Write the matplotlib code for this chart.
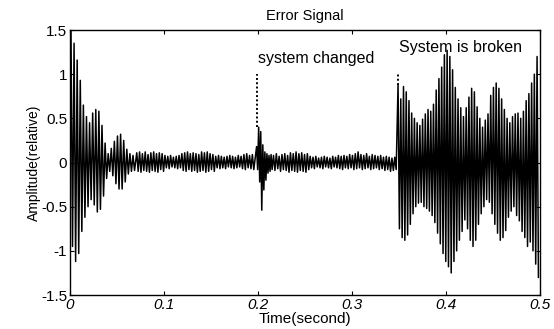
import numpy as np
import matplotlib
matplotlib.use("Agg")
import matplotlib.pyplot as plt

plt.rcParams['font.family'] = ['Liberation Sans', 'DejaVu Sans']

# error signal, stored as per-cycle peaks (upper) and troughs (lower)
# for each stretch of the recording: (start time, cycle period)
startup_t0, startup_period = 0.001, 0.0033
startup_upper = [1.5, 1.35, 1.16, 0.93, 0.65, 0.52, 0.45, 0.56, 0.6, 0.58,
                 0.42, 0.22, 0.1, 0.16, 0.24, 0.3, 0.32, 0.25, 0.15, 0.1, 0.08]
startup_lower = [-0.95, -1.12, -1.03, -0.78, -0.62, -0.5, -0.42, -0.48, -0.56, -0.53,
                 -0.38, -0.18, -0.1, -0.15, -0.24, -0.3, -0.3, -0.22, -0.13, -0.1, -0.09]

quiet1_t0, quiet1_period = 0.071, 0.003
quiet1_upper = [0.11, 0.12, 0.1, 0.12, 0.09, 0.11, 0.12, 0.1, 0.11, 0.1,
                0.08, 0.07, 0.08, 0.06, 0.07, 0.08, 0.1, 0.11, 0.12, 0.1,
                0.11, 0.1, 0.09, 0.12, 0.11, 0.12, 0.1, 0.09, 0.07, 0.08,
                0.07, 0.06, 0.07, 0.08, 0.07, 0.06, 0.08, 0.07, 0.09, 0.1, 0.08, 0.09]
quiet1_lower = [-0.1, -0.11, -0.09, -0.1, -0.11, -0.09, -0.1, -0.11, -0.08, -0.1,
                -0.06, -0.07, -0.05, -0.06, -0.07, -0.06, -0.09, -0.1, -0.08, -0.1,
                -0.09, -0.11, -0.1, -0.09, -0.11, -0.1, -0.08, -0.1, -0.06, -0.07,
                -0.06, -0.07, -0.05, -0.06, -0.07, -0.06, -0.05, -0.07, -0.08, -0.06, -0.07, -0.08]

change_t0, change_period = 0.1985, 0.0022
change_upper = [0.18, 0.4, 0.35, 0.2, 0.12, 0.1, 0.08, 0.09]
change_lower = [-0.08, -0.22, -0.54, -0.31, -0.2, -0.12, -0.1, -0.08]

quiet2_t0, quiet2_period = 0.2165, 0.003
quiet2_upper = [0.08, 0.1, 0.07, 0.09, 0.1, 0.08, 0.11, 0.1, 0.12, 0.1,
                0.11, 0.09, 0.1, 0.07, 0.06, 0.07, 0.05, 0.06, 0.07, 0.06,
                0.05, 0.07, 0.06, 0.08, 0.07, 0.08, 0.07, 0.09, 0.08, 0.1,
                0.12, 0.09, 0.08, 0.1, 0.07, 0.09, 0.08, 0.07, 0.08, 0.06,
                0.07, 0.06, 0.05, 0.06]
quiet2_lower = [-0.09, -0.07, -0.1, -0.08, -0.09, -0.11, -0.09, -0.1, -0.11, -0.09,
                -0.1, -0.11, -0.08, -0.06, -0.07, -0.05, -0.06, -0.07, -0.05, -0.06,
                -0.07, -0.05, -0.06, -0.07, -0.08, -0.06, -0.07, -0.06, -0.08, -0.07,
                -0.06, -0.08, -0.07, -0.06, -0.08, -0.07, -0.06, -0.08, -0.07, -0.09,
                -0.08, -0.1, -0.09, -0.08]

broken_t0, broken_period = 0.349, 0.0029
broken_upper = [0.88, 0.72, 0.86, 0.8, 0.7, 0.56, 0.5, 0.45, 0.42, 0.49,
                0.55, 0.6, 0.58, 0.66, 0.82, 0.95, 1.08, 1.22, 1.27, 1.2,
                1.05, 0.85, 0.72, 0.62, 0.52, 0.62, 0.74, 0.84, 0.8, 0.63,
                0.5, 0.4, 0.48, 0.55, 0.76, 0.85, 0.9, 0.84, 0.72, 0.6,
                0.5, 0.45, 0.52, 0.55, 0.56, 0.5, 0.58, 0.7, 0.78, 0.9, 1.0, 1.2]
broken_lower = [-0.75, -0.85, -0.88, -0.82, -0.7, -0.58, -0.5, -0.46, -0.45, -0.5,
                -0.52, -0.55, -0.6, -0.68, -0.8, -0.92, -1.03, -1.12, -1.18, -1.25,
                -1.12, -1.0, -0.88, -0.78, -0.65, -0.75, -0.88, -0.95, -0.88, -0.7,
                -0.58, -0.5, -0.42, -0.45, -0.58, -0.7, -0.8, -0.88, -0.85, -0.77,
                -0.62, -0.55, -0.5, -0.6, -0.66, -0.78, -0.85, -0.95, -0.9, -1.0, -1.15, -1.3]

# event markers
event_times = [0.199, 0.349]
event_tops = [1.0, 1.0]
event_bottoms = [0.4, 0.88]
event_labels = ["system changed", "System is broken"]
label_y = [1.18, 1.3]

segments = [
    (startup_t0, startup_period, startup_upper, startup_lower),
    (quiet1_t0, quiet1_period, quiet1_upper, quiet1_lower),
    (change_t0, change_period, change_upper, change_lower),
    (quiet2_t0, quiet2_period, quiet2_upper, quiet2_lower),
    (broken_t0, broken_period, broken_upper, broken_lower),
]

# zigzag: peak at the start of each cycle, trough half a period later
t_all = [0.0]
y_all = [0.0]
for t0, period, up, lo in segments:
    n = len(up)
    tc = t0 + period * np.arange(n)
    t_all.extend(np.column_stack([tc, tc + period / 2]).ravel())
    y_all.extend(np.column_stack([up, lo]).ravel())
t_all = np.array(t_all)
y_all = np.array(y_all)

fig = plt.figure(figsize=(5.54, 3.29), dpi=100)
ax = fig.add_axes([0.1264, 0.1033, 0.8483, 0.8055])

ax.plot(t_all, y_all, color='black', linewidth=1.1)
ax.vlines(event_times, event_bottoms, event_tops, colors='black',
          linestyles=(0, (1, 1.2)), linewidth=1.4)
for t, y, s in zip(event_times, label_y, event_labels):
    ax.text(t + 0.001, y, s, fontsize=11.5, va='center', ha='left')

ax.set_xlim(0, 0.5)
ax.set_ylim(-1.5, 1.5)
ax.set_xticks([0, 0.1, 0.2, 0.3, 0.4, 0.5])
ax.set_xticklabels(["0", "0.1", "0.2", "0.3", "0.4", "0.5"], fontstyle='italic')
ax.set_yticks([-1.5, -1, -0.5, 0, 0.5, 1, 1.5])
ax.set_yticklabels(["-1.5", "-1", "-0.5", "0", "0.5", "1", "1.5"])
ax.tick_params(direction='in', top=True, right=True, length=3,
               labelsize=11, width=0.8, pad=2)
for sp in ax.spines.values():
    sp.set_linewidth(1.0)

ax.set_title("Error Signal", fontsize=10.5, pad=7)
ax.set_xlabel("Time(second)", fontsize=11, labelpad=0)
ax.set_ylabel("Amplitude(relative)", fontsize=10, labelpad=0)

fig.savefig("out.png", dpi=100)
